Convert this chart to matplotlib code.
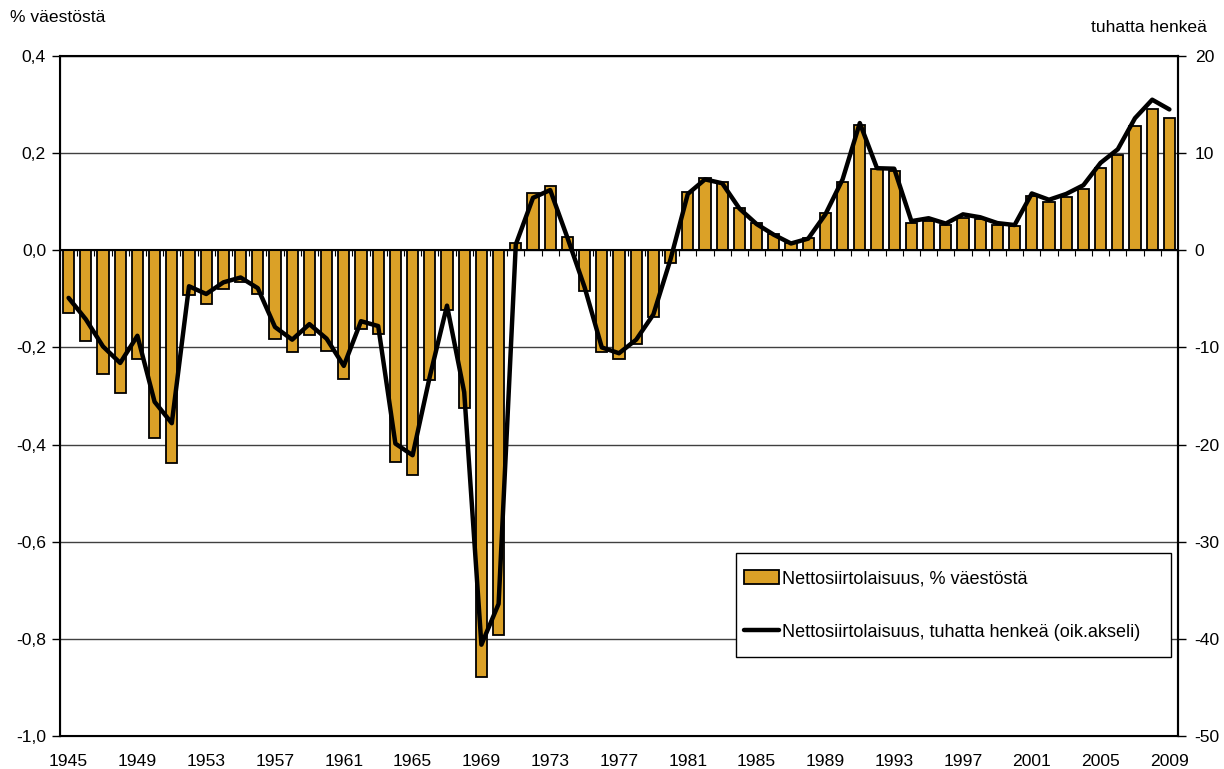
import matplotlib
matplotlib.use("Agg")
import matplotlib.pyplot as plt
from matplotlib.patches import Rectangle
import numpy as np

plt.rcParams['font.family'] = ['Liberation Sans', 'DejaVu Sans']

years = list(range(1945, 2010))
pct_population = [
    -0.130, -0.187, -0.255, -0.293, -0.223, -0.387, -0.437, -0.092, -0.110, -0.079,
    -0.066, -0.091, -0.182, -0.210, -0.175, -0.207, -0.264, -0.162, -0.173, -0.436,
    -0.462, -0.267, -0.123, -0.324, -0.879, -0.793, 0.014, 0.117, 0.132, 0.027,
    -0.084, -0.210, -0.223, -0.192, -0.137, -0.026, 0.119, 0.149, 0.140, 0.087,
    0.056, 0.033, 0.014, 0.025, 0.076, 0.141, 0.258, 0.167, 0.164, 0.057,
    0.060, 0.052, 0.066, 0.064, 0.052, 0.049, 0.112, 0.100, 0.109, 0.127,
    0.170, 0.196, 0.256, 0.290, 0.272]
thousands = [
    -4.9, -7.1, -9.9, -11.6, -8.8, -15.6, -17.8, -3.7, -4.5, -3.3,
    -2.8, -3.9, -7.9, -9.2, -7.6, -9.1, -11.9, -7.3, -7.8, -19.9,
    -21.1, -13.0, -5.7, -14.6, -40.6, -36.4, 0.6, 5.4, 6.2, 1.3,
    -3.8, -10.0, -10.6, -9.2, -6.6, -0.9, 5.8, 7.3, 6.9, 4.3,
    2.7, 1.6, 0.7, 1.2, 3.7, 7.3, 13.1, 8.45, 8.4, 3.0,
    3.3, 2.75, 3.7, 3.4, 2.8, 2.6, 5.85, 5.2, 5.8, 6.7,
    9.0, 10.4, 13.6, 15.5, 14.5]
left_ticks = [-1.0, -0.8, -0.6, -0.4, -0.2, 0.0, 0.2, 0.4]
right_ticks = [-50, -40, -30, -20, -10, 0, 10, 20]
label_bar = "Nettosiirtolaisuus, % väestöstä"
label_line = "Nettosiirtolaisuus, tuhatta henkeä (oik.akseli)"

FS = 12.6
fig = plt.figure(figsize=(12.24, 7.69), dpi=100)
ax = fig.add_axes([60/1224, 33/769, (1178-60)/1224, (736-56)/769])
x = np.arange(len(years))

ax.set_axisbelow(True)
bars = ax.bar(x, pct_population, width=0.66, color='#DBA127', edgecolor='black',
              linewidth=1.3, label=label_bar, zorder=2)
ax.set_ylim(-1.0, 0.4)
ax.set_xlim(-0.5, len(years) - 0.5)
ax.set_yticks(left_ticks)
ax.set_yticklabels([f"{v:.1f}".replace('.', ',') for v in left_ticks], fontsize=FS)
ax.yaxis.grid(True, color='#404040', linewidth=1.0)
ax.axhline(0, color='black', linewidth=1.5, zorder=3)

tick_pos = [i for i, y in enumerate(years) if (y - 1945) % 4 == 0]
ax.set_xticks(tick_pos)
ax.set_xticklabels([str(years[i]) for i in tick_pos], fontsize=FS)
ax.tick_params(axis='x', length=0, pad=13)
ax.tick_params(axis='y', direction='out', length=6, width=1, pad=4)

for s in ['left', 'bottom', 'top', 'right']:
    ax.spines[s].set_linewidth(1.5)

# category tick marks on zero line
zero_loc = (0 - (-1.0)) / 1.4
sec = ax.secondary_xaxis(zero_loc)
sec.set_xticks(np.arange(len(years) + 1) - 0.5)
sec.tick_params(axis='x', direction='out', length=4, width=0.8, labelbottom=False,
                labeltop=False, bottom=True, top=False)
sec.spines['bottom'].set_visible(False)
sec.spines['top'].set_visible(False)
sec.xaxis.set_ticks_position('bottom')
sec.set_xticklabels([])

ax2 = ax.twinx()
line, = ax2.plot(x, thousands, color='black', linewidth=3.2, label=label_line,
                 solid_joinstyle='round', solid_capstyle='round', zorder=4)
ax2.set_ylim(-50, 20)
ax2.set_yticks(right_ticks)
ax2.set_yticklabels([str(v) for v in right_ticks], fontsize=FS)
ax2.tick_params(axis='y', direction='out', length=6, width=1, pad=6)
ax2.spines['right'].set_linewidth(1.5)

fig.text(10/1224, 1 - 17/769, "% väestöstä", fontsize=FS, ha='left', va='center')
fig.text(1207/1224, 1 - 27/769, "tuhatta henkeä", fontsize=FS, ha='right', va='center')

box = Rectangle((736/1224, 1 - 657/769), (1171-736)/1224, (657-553)/769,
                transform=fig.transFigure, facecolor='white', edgecolor='black',
                linewidth=1.0, zorder=3)
fig.add_artist(box)
leg = fig.legend([bars, line], [label_bar, label_line], loc='upper left',
                 bbox_to_anchor=(744/1224, 1 - 570/769), bbox_transform=fig.transFigure,
                 fontsize=13.0, frameon=False, labelspacing=2.0, handlelength=1.95,
                 handletextpad=0.15, borderpad=0, borderaxespad=0, handleheight=0.85)
leg.set_zorder(6)

fig.savefig("out.png", dpi=100)
